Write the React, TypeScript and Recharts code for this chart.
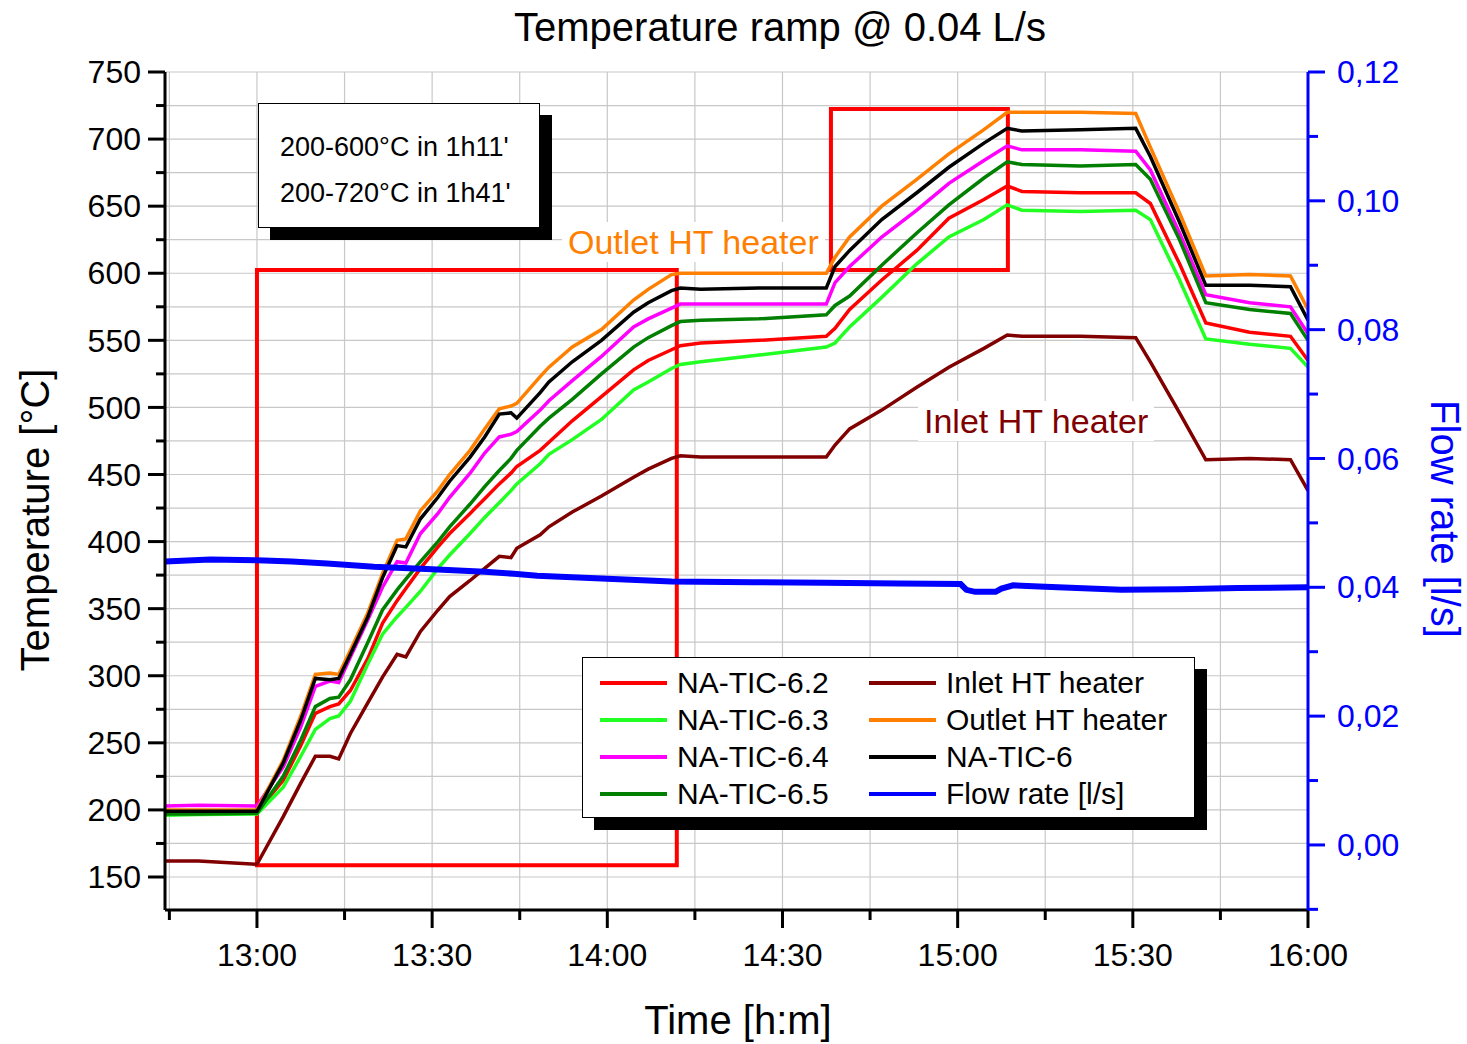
import {
  LineChart,
  Line,
  XAxis,
  YAxis,
  CartesianGrid,
  ReferenceArea,
} from "recharts";

// time in minutes after 12:00
const timeMin = [44.25, 50, 60, 64.5, 67.5, 70, 72.5, 74, 76, 79, 81.5, 84, 85.5, 88, 91, 93, 96.5, 99, 101.5, 103.5, 104.5, 108.5, 110, 114, 119, 124.5, 127, 131, 132.5, 136, 146, 157.5, 159, 161.5, 167, 173, 178.5, 184.5, 188.5, 191, 201, 210.5, 213, 218, 222.5, 230, 237, 240];

const tic62 = [199, 199, 198.5, 222, 248, 272, 277, 279, 289, 313, 339, 356, 365, 380, 396, 406, 421, 432, 443, 451, 456, 468, 474, 490, 508, 528, 535, 543, 546, 548, 550, 553, 559, 573, 595, 617, 641, 655, 665, 661, 660, 660, 652, 607, 563, 556, 553, 535];
const tic63 = [196, 196.5, 197, 217, 240, 260, 268, 270, 281, 309, 331, 344, 351, 363, 380, 390, 406, 418, 429, 438, 443, 458, 465, 476, 491, 513, 519, 529, 532, 534, 539, 545, 548, 560, 582, 607, 627, 640, 651, 647, 646, 647, 640, 595, 551, 547, 544, 530];
const tic64 = [203, 203.5, 203, 232, 262, 292, 296, 295, 314, 342, 366, 385, 384, 406, 421, 433, 451, 466, 478, 480, 482, 498, 505, 520, 538, 560, 566, 574, 577, 577, 577, 577, 593, 605, 627, 647, 667, 684, 695, 692, 692, 691, 677, 630, 584, 578, 575, 555];
const tic65 = [197, 197, 197.5, 225, 252, 277, 283, 284, 297, 325, 349, 364, 372, 385, 400, 411, 428, 441, 453, 462, 468, 486, 492, 506, 525, 545, 552, 561, 564, 565, 566, 569, 576, 583, 606, 630, 651, 671, 683, 681, 680, 681, 670, 625, 578, 573, 570, 550];
const inletHT = [162, 162, 159.5, 195, 220, 240, 240, 238, 257, 280, 299, 316, 314, 333, 349, 359, 371, 380, 389, 388, 395, 405, 411, 422, 434, 448, 454, 462, 464, 463, 463, 463, 472, 484, 498, 515, 530, 544, 554, 553, 553, 552, 534, 496, 461, 462, 461, 438];
const outletHT = [200, 200, 200, 237, 270, 301, 302, 301, 319, 347, 376, 401, 402, 423, 438, 450, 468, 484, 499, 501, 503, 523, 530, 545, 558, 580, 588, 599, 600, 600, 600, 600, 612, 627, 650, 670, 689, 707, 720, 720, 720, 719, 694, 645, 598, 599, 598, 573];
const tic6 = [199, 199, 199, 235, 267, 298, 297, 298, 316, 344, 373, 397, 396, 417, 433, 445, 463, 478, 495, 496, 492, 511, 519, 534, 550, 571, 578, 587, 589, 588, 589, 589, 605, 617, 640, 660, 679, 697, 708, 706, 707, 708, 687, 638, 591, 591, 590, 565];

const flowTime = [44.25, 52, 60, 66, 72, 80, 90, 99, 104, 108, 118, 131, 145, 157, 170, 180.5, 181.5, 183, 186.5, 187.5, 189.5, 195, 208, 218, 228, 240];
const flowRate = [0.044, 0.0443, 0.0442, 0.044, 0.0437, 0.0432, 0.0428, 0.0424, 0.0421, 0.0418, 0.0414, 0.0409, 0.0408, 0.0407, 0.0406, 0.0405, 0.0396, 0.0393, 0.0393, 0.0398, 0.0403, 0.0401, 0.0396, 0.0397, 0.0399, 0.04];

const timeTicks = [45, 60, 75, 90, 105, 120, 135, 150, 165, 180, 195, 210, 225, 240];
const tempTicks = [150, 175, 200, 225, 250, 275, 300, 325, 350, 375, 400, 425, 450, 475, 500, 525, 550, 575, 600, 625, 650, 675, 700, 725, 750];
const flowTicks = [-0.01, 0, 0.01, 0.02, 0.03, 0.04, 0.05, 0.06, 0.07, 0.08, 0.09, 0.1, 0.11, 0.12];

// highlighted ramp windows (time, temperature)
const ramp1 = { t1: 60, t2: 131.9, T1: 158.7, T2: 602.4 };
const ramp2 = { t1: 158.3, t2: 188.6, T1: 602.4, T2: 722.4 };

const series = [
  { key: "tic62", name: "NA-TIC-6.2", color: "#ff0000", values: tic62 },
  { key: "tic63", name: "NA-TIC-6.3", color: "#22ff22", values: tic63 },
  { key: "tic64", name: "NA-TIC-6.4", color: "#ff00ff", values: tic64 },
  { key: "tic65", name: "NA-TIC-6.5", color: "#007f00", values: tic65 },
  { key: "inlet", name: "Inlet HT heater", color: "#800000", values: inletHT },
  { key: "outlet", name: "Outlet HT heater", color: "#ff8000", values: outletHT },
  { key: "tic6", name: "NA-TIC-6", color: "#000000", values: tic6 },
];
const FLOW_COLOR = "#0000ff";

const rows = timeMin.map((t, i) => {
  const r: Record<string, number> = { t };
  series.forEach((s) => (r[s.key] = s.values[i]));
  return r;
});
const flowRows = flowTime.map((t, i) => ({ t, flow: flowRate[i] }));

const FONT = "'Liberation Sans', Arial, sans-serif";

const fmtTime = (v: number) =>
  `${12 + Math.floor(v / 60)}:${String(v % 60).padStart(2, "0")}`;

function BottomTick({ x, y, payload }: any) {
  const v = payload.value;
  const major = v % 30 === 0;
  return (
    <g>
      <line x1={x} x2={x} y1={y} y2={y + (major ? 18 : 10)} stroke="#000" strokeWidth={3} />
      {major && (
        <text x={x} y={y + 45} dy="0.35em" textAnchor="middle" fontSize={32} fontFamily={FONT} fill="#000">
          {fmtTime(v)}
        </text>
      )}
    </g>
  );
}

function TopTick({ x, y, payload }: any) {
  const major = payload.value % 30 === 0;
  return <line x1={x} x2={x} y1={y} y2={y + (major ? 18 : 10)} stroke="#000" strokeWidth={3} />;
}

function LeftTick({ x, y, payload }: any) {
  const v = payload.value;
  const major = v % 50 === 0;
  return (
    <g>
      <line x1={x - (major ? 17 : 9)} x2={x} y1={y} y2={y} stroke="#000" strokeWidth={3} />
      {major && (
        <text x={x - 24} y={y} dy="0.35em" textAnchor="end" fontSize={32} fontFamily={FONT} fill="#000">
          {v}
        </text>
      )}
    </g>
  );
}

function RightTick({ x, y, payload }: any) {
  const v = payload.value;
  const major = v >= 0 && Math.round(v * 100) % 2 === 0;
  return (
    <g>
      <line x1={x} x2={x + (major ? 17 : 10)} y1={y} y2={y} stroke={FLOW_COLOR} strokeWidth={3} />
      {major && (
        <text x={x + 29} y={y} dy="0.35em" textAnchor="start" fontSize={32} fontFamily={FONT} fill={FLOW_COLOR}>
          {v.toFixed(2).replace(".", ",")}
        </text>
      )}
    </g>
  );
}

const abs = (s: React.CSSProperties): React.CSSProperties => ({ position: "absolute", fontFamily: FONT, whiteSpace: "nowrap", ...s });

function ChartLegend() {
  const col1 = series.slice(0, 4);
  const col2 = [...series.slice(4), { key: "flow", name: "Flow rate [l/s]", color: FLOW_COLOR }];
  const item = (s: { key: string; name: string; color: string }, i: number, left: number) => (
    <div key={s.key}>
      <div style={abs({ left, top: 25 + i * 37 - 2, width: 67, height: 4, background: s.color })} />
      <div style={abs({ left: left + 77, top: 25 + i * 37 - 15, fontSize: 30, lineHeight: "30px", color: "#000" })}>{s.name}</div>
    </div>
  );
  return (
    <div style={abs({ left: 582, top: 657, width: 611, height: 159, background: "#fff", border: "1.5px solid #000", boxShadow: "12px 12px 0 #000" })}>
      {col1.map((s, i) => item(s, i, 17))}
      {col2.map((s, i) => item(s, i, 286))}
    </div>
  );
}

export default function App() {
  return (
    <div style={{ position: "absolute", left: 0, top: 0, width: 1467, height: 1044, background: "#fff" }}>
      <LineChart width={1467} height={1044} data={rows} margin={{ top: 72, right: 59, bottom: 74, left: 65 }}>
        <CartesianGrid stroke="#c8c8c8" strokeWidth={1.2} yAxisId="temp" />
        <XAxis
          dataKey="t"
          type="number"
          domain={[44.25, 240]}
          ticks={timeTicks}
          interval={0}
          tickSize={0}
          tickMargin={0}
          tick={BottomTick}
          axisLine={{ stroke: "#000", strokeWidth: 3 }}
          height={60}
          allowDataOverflow
        />
        <XAxis
          xAxisId="top"
          orientation="top"
          dataKey="t"
          type="number"
          domain={[44.25, 240]}
          ticks={timeTicks}
          interval={0}
          tickSize={0}
          tickMargin={0}
          tick={TopTick}
          axisLine={{ stroke: "#000", strokeWidth: 3 }}
          height={0}
          allowDataOverflow
        />
        <YAxis
          yAxisId="temp"
          type="number"
          domain={[125.4, 750]}
          ticks={tempTicks}
          interval={0}
          tickSize={0}
          tickMargin={0}
          tick={LeftTick}
          axisLine={{ stroke: "#000", strokeWidth: 3 }}
          width={100}
          allowDataOverflow
        />
        <YAxis
          yAxisId="flow"
          orientation="right"
          type="number"
          domain={[-0.0101, 0.12]}
          ticks={flowTicks}
          interval={0}
          tickSize={0}
          tickMargin={0}
          tick={RightTick}
          axisLine={{ stroke: FLOW_COLOR, strokeWidth: 3 }}
          width={100}
          allowDataOverflow
        />
        {series.map((s) => (
          <Line
            key={s.key}
            yAxisId="temp"
            dataKey={s.key}
            name={s.name}
            stroke={s.color}
            strokeWidth={3.5}
            dot={false}
            type="linear"
            isAnimationActive={false}
          />
        ))}
        <Line
          yAxisId="flow"
          data={flowRows}
          dataKey="flow"
          name="Flow rate [l/s]"
          stroke={FLOW_COLOR}
          strokeWidth={6}
          dot={false}
          type="linear"
          isAnimationActive={false}
        />
        <ReferenceArea yAxisId="temp" x1={ramp1.t1} x2={ramp1.t2} y1={ramp1.T1} y2={ramp1.T2} fill="none" fillOpacity={0} stroke="#ff0000" strokeWidth={4} ifOverflow="visible" />
        <ReferenceArea yAxisId="temp" x1={ramp2.t1} x2={ramp2.t2} y1={ramp2.T1} y2={ramp2.T2} fill="none" fillOpacity={0} stroke="#ff0000" strokeWidth={4} ifOverflow="visible" />
      </LineChart>

      <div style={abs({ left: 380, top: 7, width: 800, textAlign: "center", fontSize: 40, lineHeight: "40px", color: "#000" })}>
        Temperature ramp @ 0.04 L/s
      </div>
      <div style={abs({ left: 538, top: 1000, width: 400, textAlign: "center", fontSize: 40, lineHeight: "40px", color: "#000" })}>
        Time [h:m]
      </div>
      <div style={abs({ left: -165, top: 500, width: 400, textAlign: "center", fontSize: 40, lineHeight: "40px", color: "#000", transform: "rotate(-90deg)" })}>
        Temperature [°C]
      </div>
      <div style={abs({ left: 1245, top: 499, width: 400, textAlign: "center", fontSize: 40, lineHeight: "40px", color: FLOW_COLOR, transform: "rotate(90deg)" })}>
        Flow rate [l/s]
      </div>

      <div style={abs({ left: 258, top: 103, width: 280, height: 123, background: "#fff", border: "1.5px solid #000", boxShadow: "12px 12px 0 #000" })}>
        <div style={abs({ left: 21, top: 43 - 13, fontSize: 27, lineHeight: "27px" })}>200-600°C in 1h11'</div>
        <div style={abs({ left: 21, top: 89 - 13, fontSize: 27, lineHeight: "27px" })}>200-720°C in 1h41'</div>
      </div>

      <div style={abs({ left: 562, top: 222, padding: "2px 6px", background: "#fff", fontSize: 34, lineHeight: "36px", color: "#ff8000" })}>
        Outlet HT heater
      </div>
      <div style={abs({ left: 918, top: 401, padding: "2px 6px", background: "#fff", fontSize: 34, lineHeight: "36px", color: "#800000" })}>
        Inlet HT heater
      </div>

      <ChartLegend />
    </div>
  );
}
